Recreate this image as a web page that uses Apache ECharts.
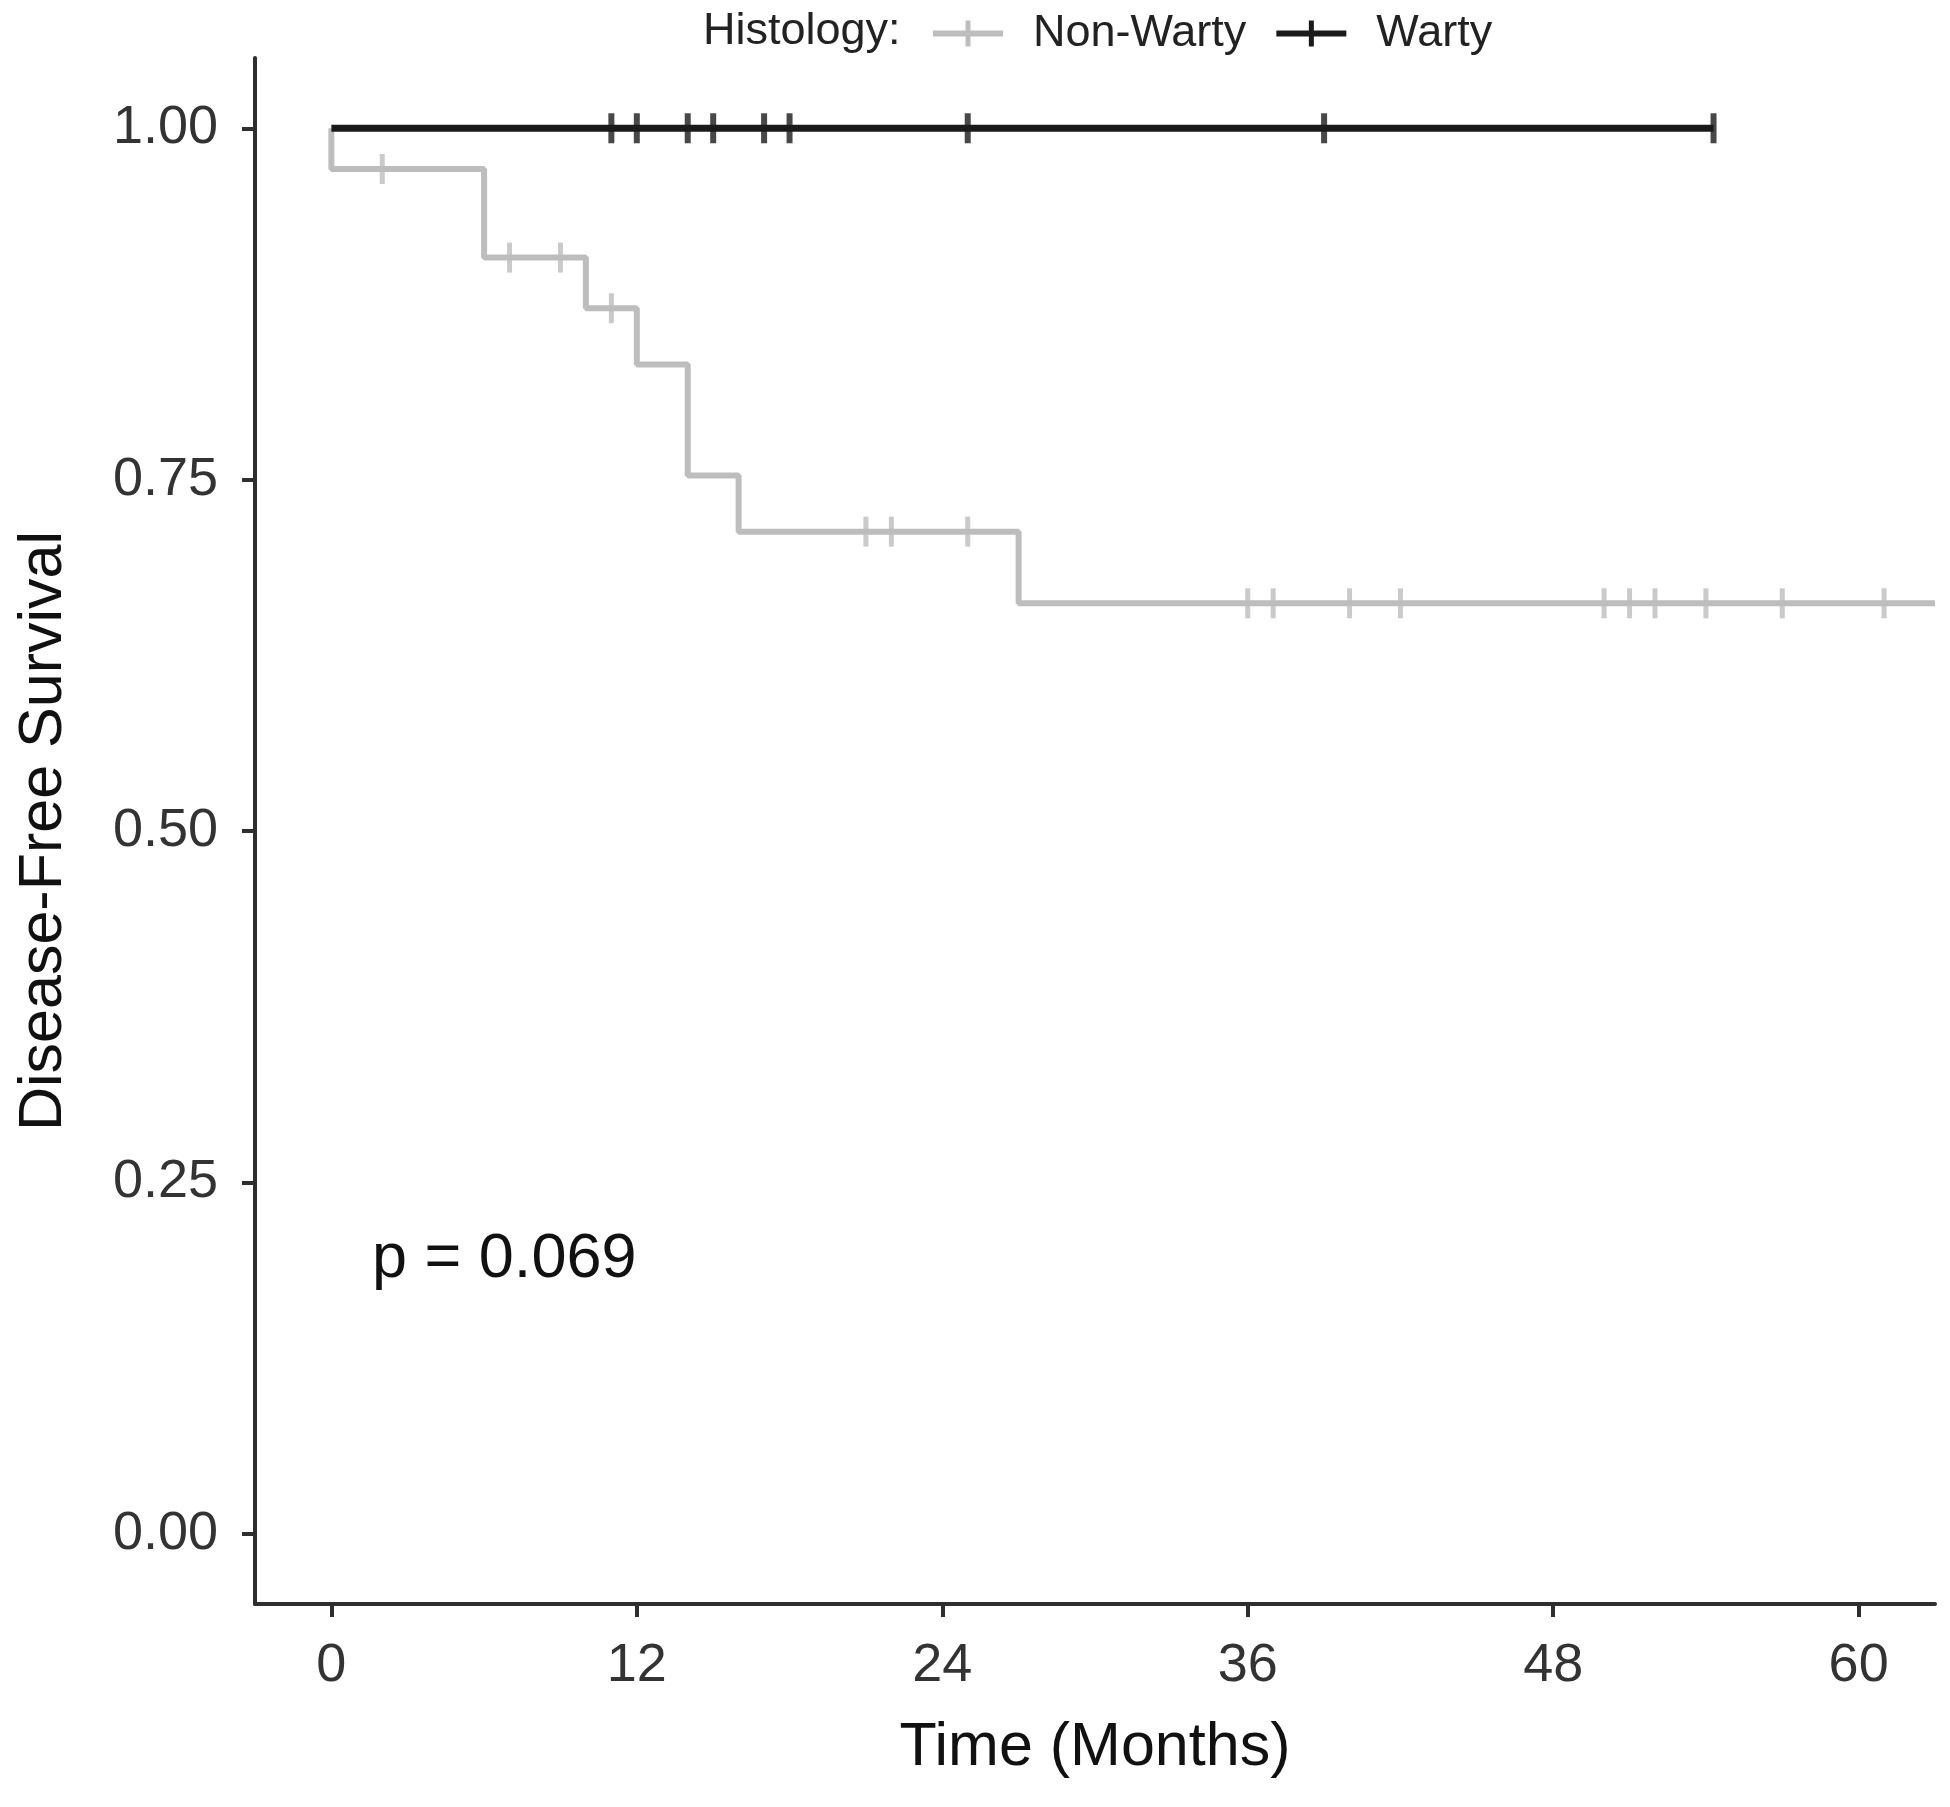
<!DOCTYPE html>
<html>
<head>
<meta charset="utf-8">
<title>Disease-Free Survival</title>
<script src="https://cdn.jsdelivr.net/npm/echarts@6/dist/echarts.min.js"></script>
<style>
  body { margin: 0; padding: 0; background: #fff; }
  #chart01 { width: 1950px; height: 1807px; }
</style>
</head>
<body>
<div id="chart01"></div>
<script type="text/javascript">
// tick labels
var xTicks = [0, 12, 24, 36, 48, 60];
var yTicks = [0, 0.25, 0.5, 0.75, 1];

// Non-Warty: KM steps (time in months, survival)
var nonWartyTime = [0, 0, 6, 10, 12, 14, 16, 27, 63];
var nonWartySurv = [1, 0.971, 0.908, 0.872, 0.832, 0.753, 0.713, 0.662, 0.662];
// Non-Warty censored cases
var nonWartyCensorTime = [2, 7, 9, 11, 21, 22, 25, 36, 37, 40, 42, 50, 51, 52, 54, 57, 61];
var nonWartyCensorSurv = [0.971, 0.908, 0.908, 0.872, 0.713, 0.713, 0.713,
  0.662, 0.662, 0.662, 0.662, 0.662, 0.662, 0.662, 0.662, 0.662, 0.662];

// Warty: no events
var wartyTime = [0, 54.3];
var wartySurv = [1, 1];
var wartyCensorTime = [11, 12, 14, 15, 17, 18, 25, 39, 54.3];
var wartyCensorSurv = [1, 1, 1, 1, 1, 1, 1, 1, 1];

var pValueText = "p = 0.069";

var FONT = "'Liberation Sans', Arial, sans-serif";
var GREY = "#bdbdbd";
var BLACK = "#1a1a1a";
var AXIS = "#2e2e2e";
// line with a "+" for the legend
var PLUS_ICON = "path://M0,10 H70 V16 H0 Z M32.5,0 H37.5 V26 H32.5 Z";

function pairs(xs, ys) {
  var out = [];
  for (var i = 0; i < xs.length; i++) {
    out.push([xs[i], ys[i]]);
  }
  return out;
}

var mychart01 = echarts.init(document.getElementById("chart01"));
mychart01.setOption({
  animation: false,
  backgroundColor: "#fff",
  title: {
    text: "Histology:",
    left: 698,
    top: 4,
    textStyle: { fontFamily: FONT, fontSize: 45, fontWeight: "normal", color: "#222" }
  },
  legend: {
    left: 928,
    top: 6,
    itemWidth: 70,
    itemHeight: 26,
    itemGap: 30,
    selectedMode: false,
    textStyle: { fontFamily: FONT, fontSize: 45, color: "#222", padding: [0, 0, 0, 25] },
    data: [
      { name: "Non-Warty", icon: PLUS_ICON, itemStyle: { color: GREY, borderWidth: 0 } },
      { name: "Warty", icon: PLUS_ICON, itemStyle: { color: BLACK, borderWidth: 0 } }
    ]
  },
  grid: { left: 255, right: 15, top: 58, bottom: 203 },
  xAxis: {
    type: "value",
    min: -3,
    max: 63,
    name: "Time (Months)",
    nameLocation: "middle",
    nameGap: 114,
    nameTextStyle: { fontFamily: FONT, fontSize: 61, color: "#111" },
    splitLine: { show: false },
    axisLine: { onZero: false, lineStyle: { color: AXIS, width: 4 } },
    axisTick: { customValues: xTicks, length: 13, lineStyle: { color: AXIS, width: 4 } },
    axisLabel: {
      customValues: xTicks,
      fontFamily: FONT,
      fontSize: 54,
      color: "#333",
      margin: 35
    }
  },
  yAxis: {
    type: "value",
    min: -0.05,
    max: 1.05,
    name: "Disease-Free Survival",
    nameLocation: "middle",
    nameGap: 180,
    nameTextStyle: { fontFamily: FONT, fontSize: 61, color: "#111" },
    splitLine: { show: false },
    axisLine: { onZero: false, lineStyle: { color: AXIS, width: 4 } },
    axisTick: { customValues: yTicks, length: 13, lineStyle: { color: AXIS, width: 4 } },
    axisLabel: {
      customValues: yTicks,
      fontFamily: FONT,
      fontSize: 54,
      color: "#333",
      margin: 37,
      formatter: function(v) { return v.toFixed(2); }
    }
  },
  graphic: [
    {
      type: "text",
      left: 372,
      top: 1228,
      style: { text: pValueText, font: "63px " + FONT, fill: "#111" }
    }
  ],
  series: [
    {
      name: "Non-Warty",
      type: "line",
      step: "end",
      symbol: "none",
      silent: true,
      color: GREY,
      lineStyle: { color: GREY, width: 6 },
      data: pairs(nonWartyTime, nonWartySurv)
    },
    {
      name: "Non-Warty censored",
      type: "scatter",
      symbol: "rect",
      symbolSize: [5, 30],
      silent: true,
      itemStyle: { color: GREY },
      data: pairs(nonWartyCensorTime, nonWartyCensorSurv)
    },
    {
      name: "Warty",
      type: "line",
      step: "end",
      symbol: "none",
      silent: true,
      color: BLACK,
      lineStyle: { color: BLACK, width: 7 },
      data: pairs(wartyTime, wartySurv)
    },
    {
      name: "Warty censored",
      type: "scatter",
      symbol: "rect",
      symbolSize: [6, 30],
      silent: true,
      itemStyle: { color: BLACK },
      data: pairs(wartyCensorTime, wartyCensorSurv)
    }
  ]
});
</script>
</body>
</html>
